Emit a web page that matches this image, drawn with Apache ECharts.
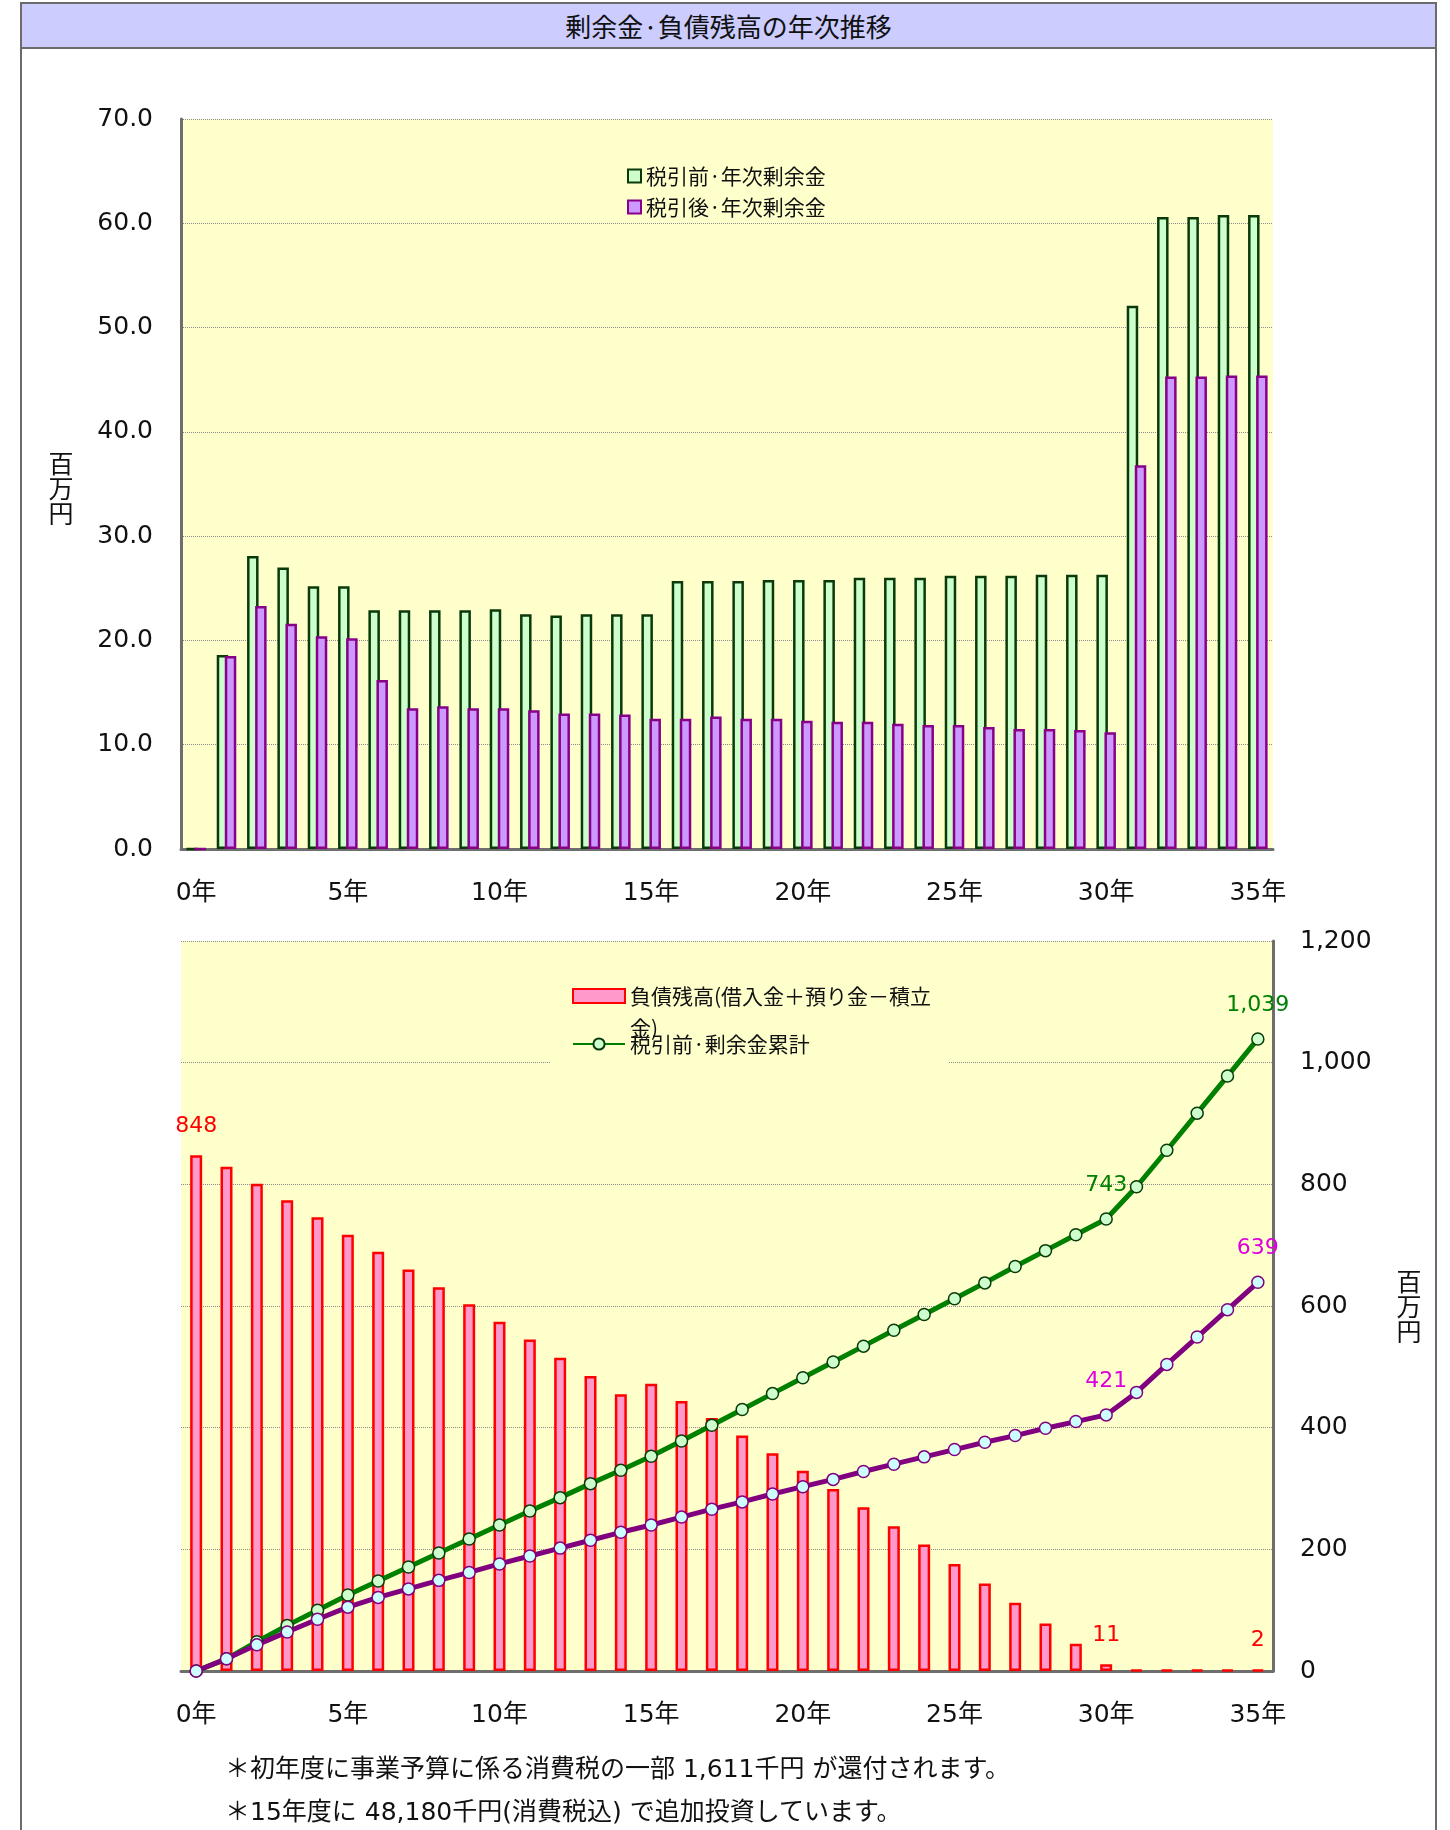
<!DOCTYPE html>
<html lang="ja">
<head>
<meta charset="utf-8">
<title>剰余金·負債残高の年次推移</title>
<script src="https://cdn.jsdelivr.net/npm/echarts/dist/echarts.min.js"></script>
<style>
  html, body { margin: 0; padding: 0; background: #fff; }
  body { width: 1450px; height: 1830px; position: relative; overflow: hidden;
         font-family: "DejaVu Sans", "Noto Sans CJK JP", sans-serif; color: #111; }
  #frame { position: absolute; left: 20px; top: 2px; width: 1417px; height: 1900px;
           box-sizing: border-box; border: 2px solid #6b6b6b; }
  #title { position: absolute; left: 20px; top: 2px; width: 1417px; height: 47px;
           box-sizing: border-box; border: 2px solid #6b6b6b; background: #ccccff;
           text-align: center; font: 26px/43px "Noto Sans CJK JP", sans-serif; color: #111; }
  #chart { position: absolute; left: 0; top: 0; width: 1450px; height: 1830px; }
  .note { position: absolute; left: 225px; font-size: 25px; line-height: 30px; white-space: nowrap; }
</style>
</head>
<body>
<div id="frame"></div>
<div id="title">剰余金·負債残高の年次推移</div>
<div id="chart"></div>
<div class="note" style="top:1754px;">＊初年度に事業予算に係る消費税の一部 1,611千円 が還付されます。</div>
<div class="note" style="top:1797px;">＊15年度に 48,180千円(消費税込) で追加投資しています。</div>
<script>
// Years of the project (0年 … 35年)
const years = [0, 1, 2, 3, 4, 5, 6, 7, 8, 9, 10, 11, 12, 13, 14, 15, 16, 17,
               18, 19, 20, 21, 22, 23, 24, 25, 26, 27, 28, 29, 30, 31, 32, 33, 34, 35];

// Annual surplus before / after tax (百万円)
const preTaxAnnual = [0, 18.6, 28.1, 27.0, 25.2, 25.2, 22.9, 22.9, 22.9, 22.9, 23.0, 22.5,
                      22.4, 22.5, 22.5, 22.5, 25.7, 25.7, 25.7, 25.8, 25.8, 25.8, 26.0, 26.0,
                      26.0, 26.2, 26.2, 26.2, 26.3, 26.3, 26.3, 52.1, 60.6, 60.6, 60.8, 60.8];
const afterTaxAnnual = [0, 18.5, 23.3, 21.6, 20.4, 20.2, 16.2, 13.5, 13.7, 13.5, 13.5, 13.3,
                        13.0, 13.0, 12.9, 12.5, 12.5, 12.7, 12.5, 12.5, 12.3, 12.2, 12.2, 12.0,
                        11.9, 11.9, 11.7, 11.5, 11.5, 11.4, 11.2, 36.8, 45.3, 45.3, 45.4, 45.4];

// Outstanding debt (借入金＋預り金－積立金), 百万円
const debtBalance = [848, 829, 801, 774, 746, 717, 689, 660, 631, 603, 574, 545, 515, 485,
                     455, 472, 444, 416, 387, 358, 329, 299, 269, 238, 208, 176, 144, 112,
                     78, 45, 11, 2, 2, 2, 2, 2];

// Cumulative surplus before / after tax, 百万円
const preTaxCumulative = [0, 20, 48, 75, 100, 125, 148, 171, 194, 217, 240, 263, 285, 308,
                          330, 353, 378, 404, 430, 456, 482, 508, 534, 560, 586, 612, 638,
                          665, 691, 717, 743, 796, 856, 917, 978, 1039];
const afterTaxCumulative = [0, 20, 43, 64, 85, 105, 121, 135, 149, 162, 176, 189, 202, 215,
                            228, 240, 253, 266, 278, 291, 303, 315, 328, 340, 352, 364, 376,
                            387, 399, 410, 421, 458, 504, 549, 594, 639];

// Which years carry a value label
const debtLabelYears = [0, 30, 35];
const cumulativeLabelYears = [30, 35];

// Axis ticks
const surplusTicks = { min: 0, max: 70, interval: 10 };
const balanceTicks = { min: 0, max: 1200, interval: 200 };

const seriesNames = {
  preAnnual: '税引前·年次剰余金',
  afterAnnual: '税引後·年次剰余金',
  debt: '負債残高(借入金＋預り金－積立金)',
  preCum: '税引前·剰余金累計',
  afterCum: '税引後·剰余金累計'
};

const FONT = '"DejaVu Sans", "Noto Sans CJK JP", sans-serif';
const CJK = '"Noto Sans CJK JP", sans-serif';
const PLOT_BG = '#ffffcc';
const AXIS_GRAY = '#6e6e6e';

function withLabels(values, labelIdx) {
  return values.map((v, i) => labelIdx.indexOf(i) >= 0 ? { value: v, label: { show: true } } : v);
}
const commaFmt = p => Number(p.value).toLocaleString('en-US');

const splitLine = { show: true, lineStyle: { color: '#8c8c8c', type: 'dotted', width: 1 } };

const chart = echarts.init(document.getElementById('chart'), null, { renderer: 'canvas' });

chart.setOption({
  animation: false,
  backgroundColor: 'transparent',
  textStyle: { fontFamily: FONT },
  grid: [
    { left: 181, top: 119, width: 1092, height: 730, show: true, backgroundColor: PLOT_BG,
      borderWidth: 0, containLabel: false, outerBoundsMode: 'none' },
    { left: 181, top: 941, width: 1092, height: 730, show: true, backgroundColor: PLOT_BG,
      borderWidth: 0, containLabel: false, outerBoundsMode: 'none' }
  ],
  xAxis: [
    { type: 'category', gridIndex: 0, data: years, boundaryGap: true,
      axisLine: { show: true, lineStyle: { color: AXIS_GRAY, width: 3 } },
      axisTick: { show: false },
      axisLabel: { interval: 4, formatter: '{value}年', fontSize: 25, color: '#111',
                   fontFamily: FONT, margin: 32 },
      splitLine: { show: false } },
    { type: 'category', gridIndex: 1, data: years, boundaryGap: true,
      axisLine: { show: true, lineStyle: { color: AXIS_GRAY, width: 3 } },
      axisTick: { show: false },
      axisLabel: { interval: 4, formatter: '{value}年', fontSize: 25, color: '#111',
                   fontFamily: FONT, margin: 32 },
      splitLine: { show: false } }
  ],
  yAxis: [
    { type: 'value', gridIndex: 0, position: 'left',
      min: surplusTicks.min, max: surplusTicks.max, interval: surplusTicks.interval,
      axisLine: { show: true, lineStyle: { color: AXIS_GRAY, width: 3 } },
      axisTick: { show: false },
      axisLabel: { formatter: v => v.toFixed(1), fontSize: 25, color: '#111',
                   fontFamily: FONT, margin: 28 },
      splitLine: splitLine },
    { type: 'value', gridIndex: 1, position: 'right',
      min: balanceTicks.min, max: balanceTicks.max, interval: balanceTicks.interval,
      axisLine: { show: true, lineStyle: { color: AXIS_GRAY, width: 3 } },
      axisTick: { show: false },
      axisLabel: { formatter: v => v.toLocaleString('en-US'), fontSize: 25, color: '#111',
                   fontFamily: FONT, margin: 27 },
      splitLine: splitLine }
  ],
  legend: [
    { data: [seriesNames.preAnnual, seriesNames.afterAnnual],
      orient: 'vertical', left: 627, top: 165.5, padding: 0,
      icon: 'rect', itemWidth: 13, itemHeight: 13, itemGap: 10, selectedMode: false,
      textStyle: { fontSize: 21, lineHeight: 21, color: '#111', fontFamily: CJK } },
    { data: [seriesNames.debt],
      orient: 'vertical', left: 572, top: 948, padding: 0,
      icon: 'rect', itemWidth: 52, itemHeight: 14, selectedMode: false,
      // long name wraps after 積立; the empty first line keeps line one level with the icon
      formatter: name => '\n' + name.replace('積立', '積立\n'),
      textStyle: { fontSize: 21, lineHeight: 32, color: '#111', fontFamily: CJK } },
    { data: [seriesNames.preCum],
      orient: 'vertical', left: 572, top: 1033.5, padding: 0,
      itemWidth: 52, itemHeight: 14, selectedMode: false,
      textStyle: { fontSize: 21, lineHeight: 21, color: '#111', fontFamily: CJK } }
  ],
  graphic: [
    { type: 'rect', z: 1, silent: true,
      shape: { x: 550, y: 975, width: 398, height: 95 },
      style: { fill: PLOT_BG } },
    { type: 'text', x: 61, y: 488, silent: true,
      style: { text: '百\n万\n円', fontSize: 25, lineHeight: 25, fill: '#111',
               fontFamily: CJK, align: 'center', verticalAlign: 'middle' } },
    { type: 'text', x: 1409, y: 1306, silent: true,
      style: { text: '百\n万\n円', fontSize: 25, lineHeight: 25, fill: '#111',
               fontFamily: CJK, align: 'center', verticalAlign: 'middle' } }
  ],
  series: [
    { name: seriesNames.preAnnual, type: 'bar', xAxisIndex: 0, yAxisIndex: 0,
      data: preTaxAnnual, barWidth: 11.5, barGap: '-30%',
      itemStyle: { color: '#ccffcc', borderColor: '#0a3a0a', borderWidth: 2.5 } },
    { name: seriesNames.afterAnnual, type: 'bar', xAxisIndex: 0, yAxisIndex: 0,
      data: afterTaxAnnual, barWidth: 11.5, barGap: '-30%',
      itemStyle: { color: '#cc99ff', borderColor: '#880088', borderWidth: 2.5 } },
    { name: seriesNames.debt, type: 'bar', xAxisIndex: 1, yAxisIndex: 1,
      data: withLabels(debtBalance, debtLabelYears), barWidth: 12,
      itemStyle: { color: '#ff99cc', borderColor: '#ff0000', borderWidth: 2.5 },
      label: { show: false, position: 'top', distance: 18, color: '#ff0000',
               fontSize: 22, fontFamily: FONT, formatter: commaFmt } },
    { name: seriesNames.preCum, type: 'line', xAxisIndex: 1, yAxisIndex: 1,
      data: withLabels(preTaxCumulative, cumulativeLabelYears),
      symbol: 'circle', symbolSize: 12, showAllSymbol: true,
      lineStyle: { color: '#008000', width: 5 },
      itemStyle: { color: '#ccffcc', borderColor: '#0a3a0a', borderWidth: 1.5 },
      label: { show: false, position: 'top', distance: 16, color: '#008000',
               fontSize: 22, fontFamily: FONT, formatter: commaFmt } },
    { name: seriesNames.afterCum, type: 'line', xAxisIndex: 1, yAxisIndex: 1,
      data: withLabels(afterTaxCumulative, cumulativeLabelYears),
      symbol: 'circle', symbolSize: 12, showAllSymbol: true,
      lineStyle: { color: '#800080', width: 5 },
      itemStyle: { color: '#ccffff', borderColor: '#800080', borderWidth: 1.5 },
      label: { show: false, position: 'top', distance: 16, color: '#dd00dd',
               fontSize: 22, fontFamily: FONT, formatter: commaFmt } }
  ]
});
</script>
</body>
</html>
